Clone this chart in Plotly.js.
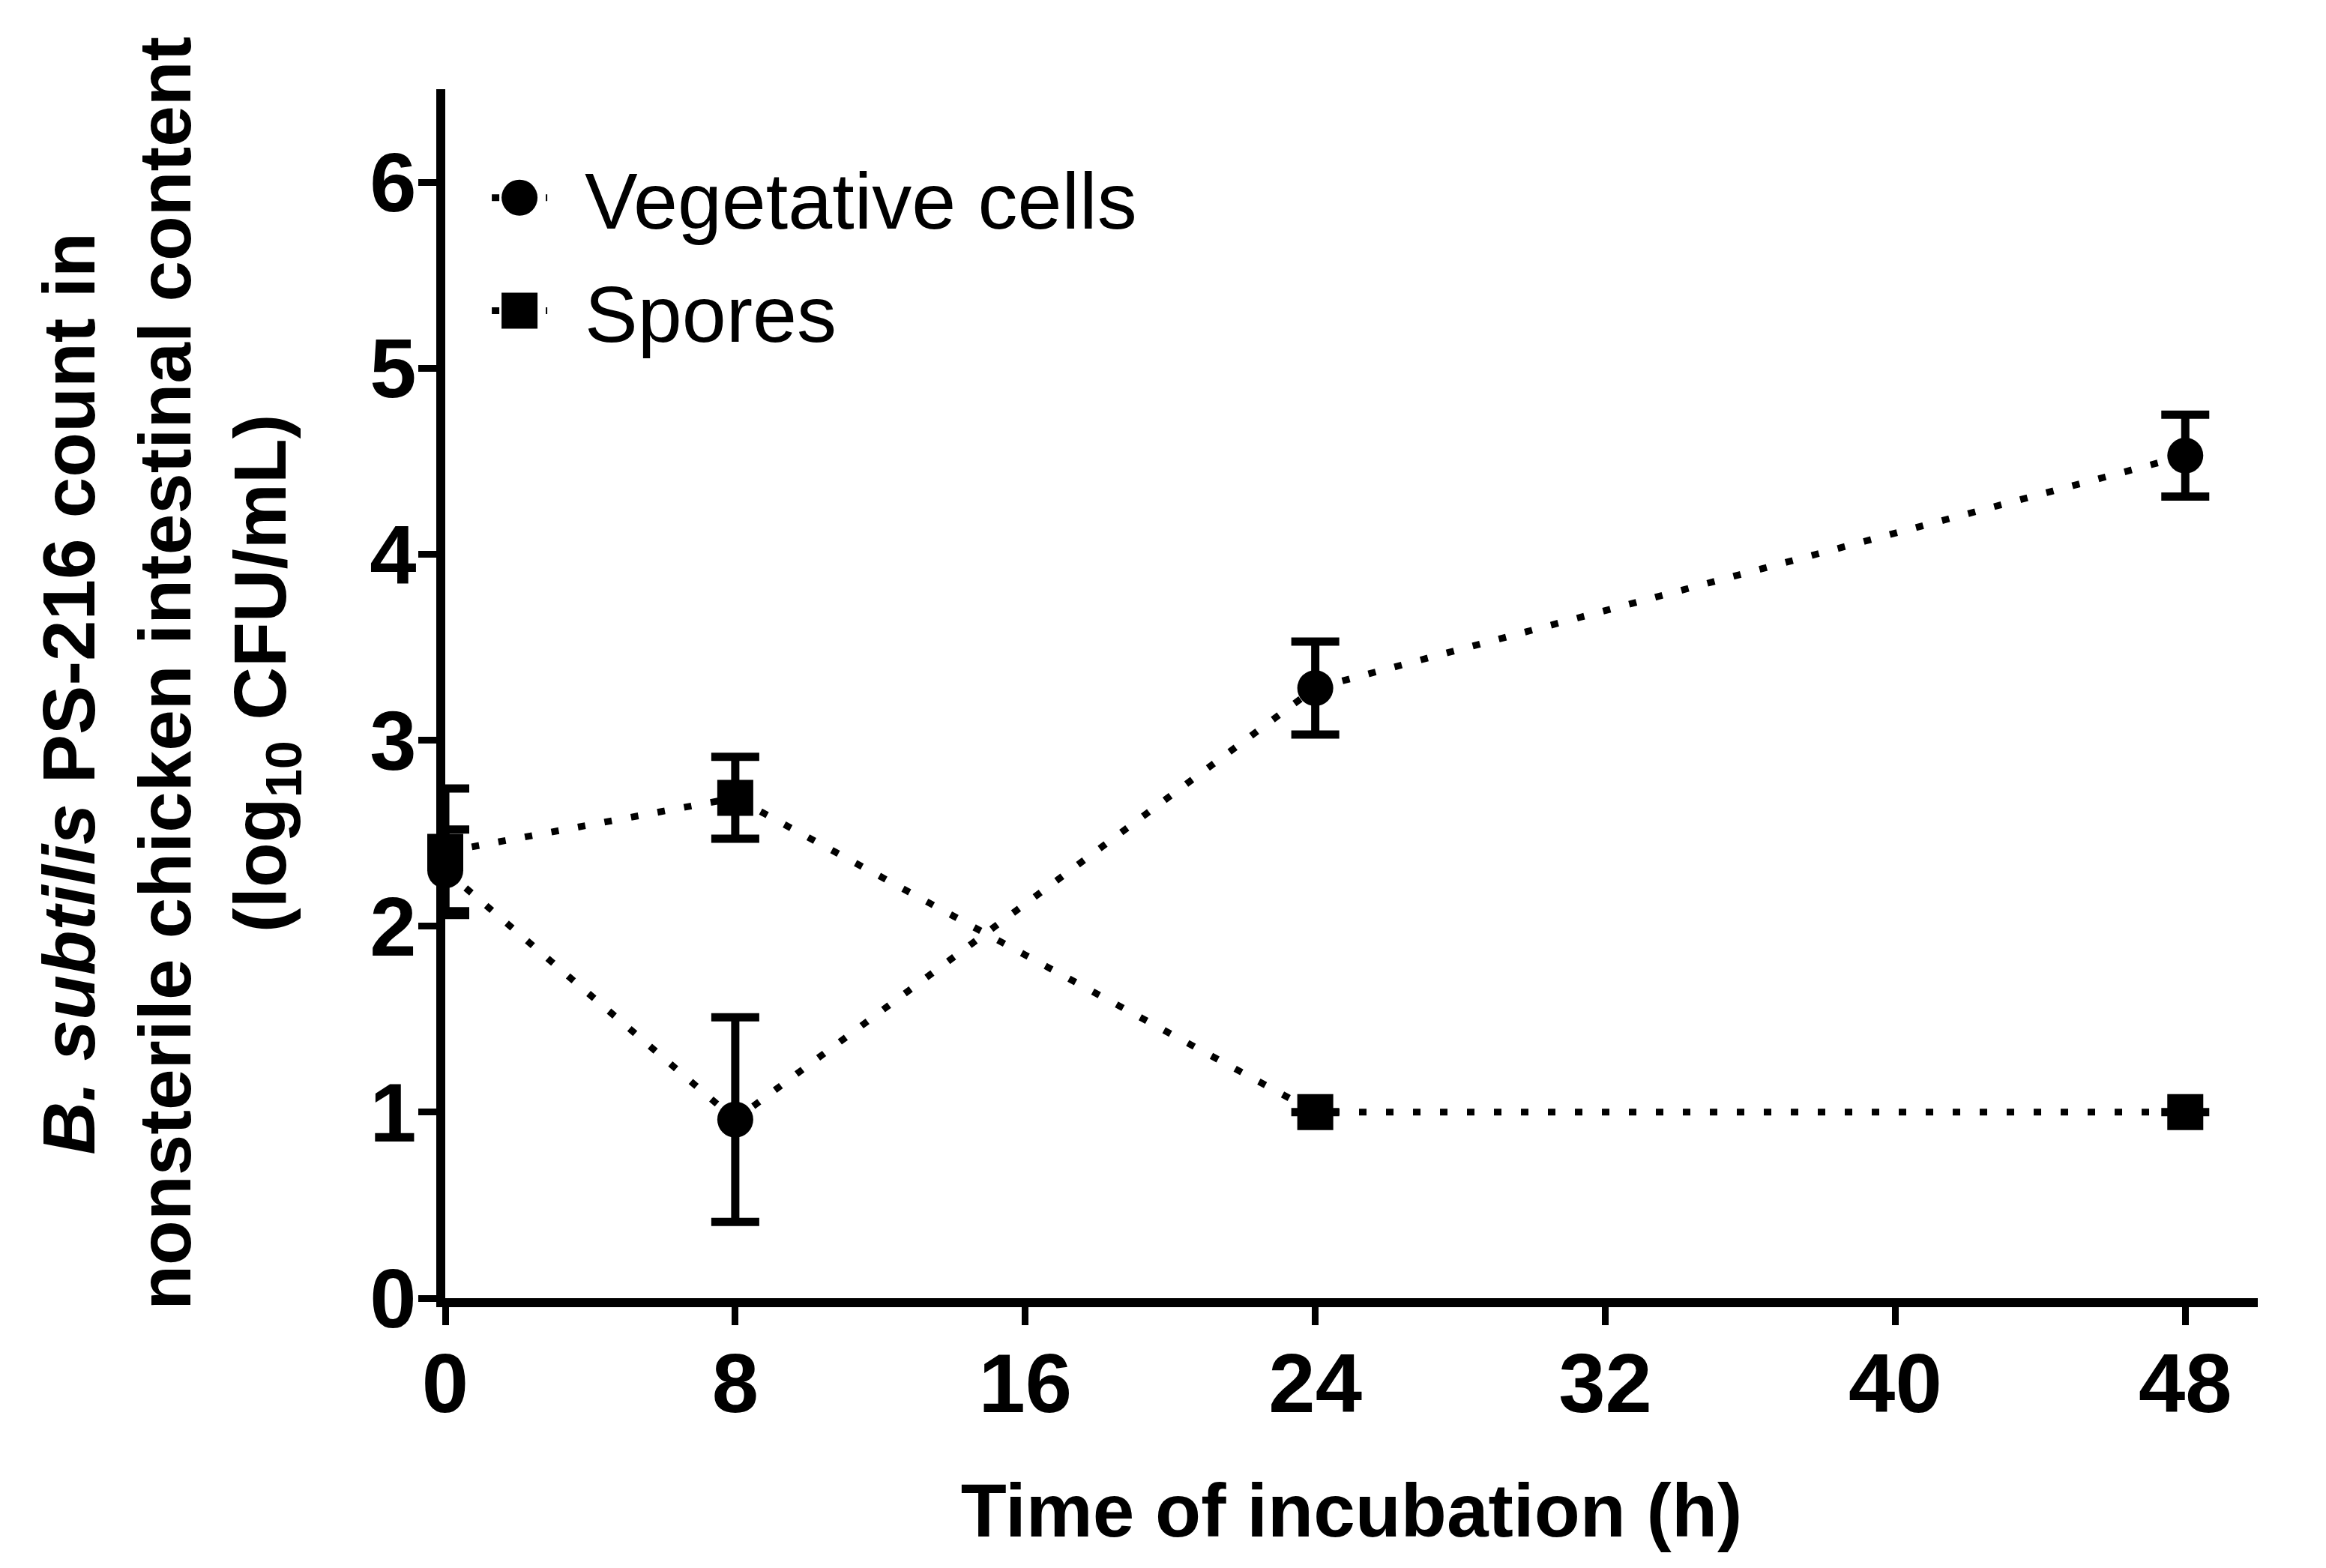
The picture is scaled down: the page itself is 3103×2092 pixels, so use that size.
<!DOCTYPE html>
<html>
<head>
<meta charset="utf-8">
<script src="https://cdn.plot.ly/plotly-3.0.1.min.js"></script>
<style>html,body{margin:0;padding:0;background:#fff;}#chart{width:3103px;height:2092px;}</style>
</head>
<body>
<div id="chart"></div>
<script>
const timeHours = [0, 8, 24, 48];
const vegetativeCells = [2.30, 0.96, 3.28, 4.53];
const vegetativeErr = [0.22, 0.55, 0.25, 0.22];
const spores = [2.40, 2.69, 1.00, 1.00];
const sporesErr = [0.34, 0.22, 0, 0];
const xTicks = [0, 8, 16, 24, 32, 40, 48];
const yTicks = [0, 1, 2, 3, 4, 5, 6];

const MARKER_SIZE = 48;
const lineStyle = {color: '#000', width: 9, dash: '10px,26px'};
const errStyle = {type: 'data', visible: true, color: '#000', thickness: 11, width: 32};

const traces = [
  {
    x: timeHours, y: vegetativeCells, name: 'Vegetative cells', type: 'scatter', mode: 'lines+markers',
    legendgroup: 'veg',
    line: lineStyle, marker: {symbol: 'circle', size: MARKER_SIZE, color: '#000'},
    error_y: Object.assign({array: vegetativeErr}, errStyle), cliponaxis: false
  },
  {
    x: timeHours, y: spores, name: 'Spores', type: 'scatter', mode: 'lines+markers',
    legendgroup: 'spo',
    line: lineStyle, marker: {symbol: 'square', size: MARKER_SIZE, color: '#000'},
    error_y: Object.assign({array: sporesErr}, errStyle), cliponaxis: false
  }
];

const tickFont = {family: 'Liberation Sans, Arial, sans-serif', size: 112, color: '#000', weight: 'bold'};
const sp = '\u00a0\u00a0';

const layout = {
  width: 3103, height: 2092,
  paper_bgcolor: '#fff', plot_bgcolor: '#fff',
  margin: {l: 594, r: 91, t: 119, b: 360, pad: 0},
  showlegend: true,
  legend: {
    x: 0.005, y: 0.957, xanchor: 'left', yanchor: 'top',
    font: {family: 'Liberation Sans, Arial, sans-serif', size: 106, color: '#000'},
    bgcolor: 'rgba(0,0,0,0)', itemwidth: 164, tracegroupgap: 10, traceorder: 'grouped'
  },
  xaxis: {
    range: [0, 50], tickvals: xTicks, ticktext: xTicks.map(String),
    showgrid: false, zeroline: false, showline: true, linecolor: '#000', linewidth: 12,
    ticks: 'outside', ticklen: 24, tickwidth: 9, tickcolor: '#000',
    tickfont: tickFont, ticklabelstandoff: -18,
    title: {text: 'Time of incubation (h)', font: {family: 'Liberation Sans, Arial, sans-serif', size: 100, color: '#000', weight: 'bold'}, standoff: 78}
  },
  yaxis: {
    range: [0, 6.5], tickvals: yTicks, ticktext: yTicks.map(String),
    showgrid: false, zeroline: false, showline: true, linecolor: '#000', linewidth: 12,
    ticks: 'outside', ticklen: 24, tickwidth: 9, tickcolor: '#000',
    tickfont: tickFont, ticklabelstandoff: -20,
    title: {
      text: sp + '<i>B. subtilis</i> PS-216 count in<br>' + sp + 'nonsterile chicken intestinal content<br>' + sp + '(log<sub>10</sub> CFU/mL)',
      font: {family: 'Liberation Sans, Arial, sans-serif', size: 98, color: '#000', weight: 'bold'},
      standoff: 84
    }
  }
};

Plotly.newPlot('chart', traces, layout, {displayModeBar: false, staticPlot: true}).then(function () {
  // enlarge the legend symbols to match the plotted markers and shorten the legend line
  document.querySelectorAll('g.legend path.scatterpts').forEach(function (p) {
    const bb = p.getBBox();
    if (!bb.width) return;
    const k = MARKER_SIZE / bb.width;
    const t = p.getAttribute('transform') || '';
    p.setAttribute('transform', t + ' scale(' + k + ')');
  });
  document.querySelectorAll('g.legend g.legendlines path').forEach(function (p) {
    const bb = p.getBBox();
    if (!bb.width) return;
    const cx = bb.x + bb.width / 2;
    p.setAttribute('d', 'M' + (cx - 37) + ',' + bb.y + 'h74');
  });
});
</script>
</body>
</html>
